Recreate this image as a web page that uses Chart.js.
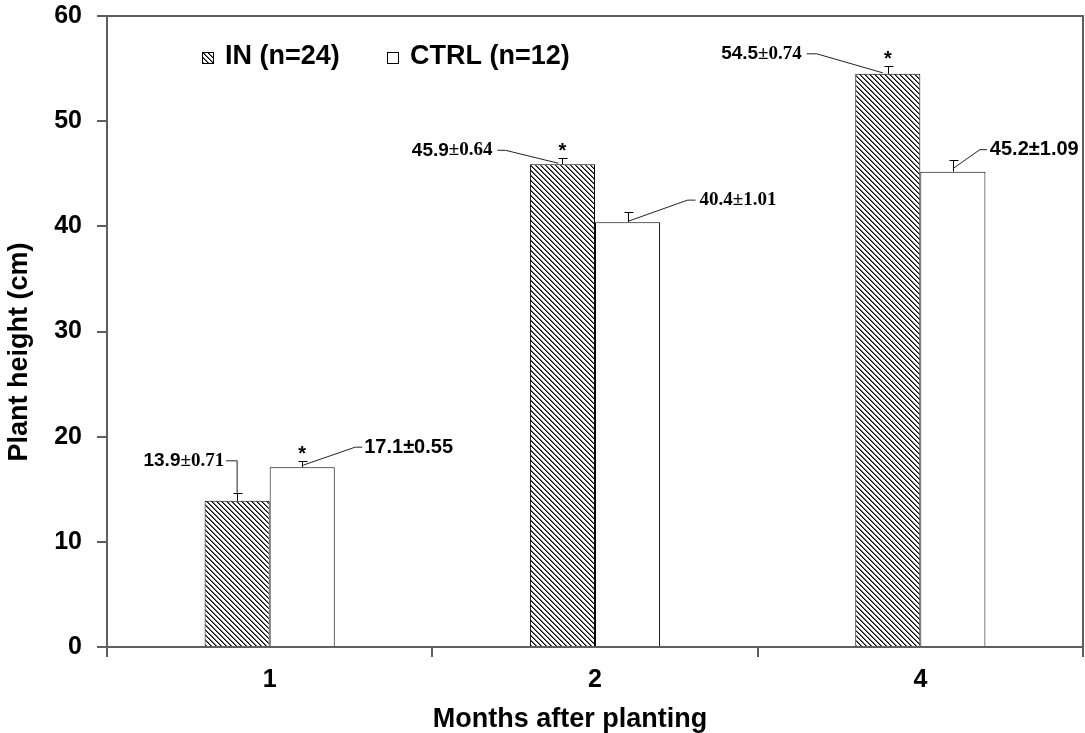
<!DOCTYPE html>
<html>
<head>
<meta charset="utf-8">
<script src="https://cdn.jsdelivr.net/npm/chart.js@4.4.1/dist/chart.umd.min.js"></script>
<style>
  html, body { margin: 0; padding: 0; background: #ffffff; }
  #wrap { width: 1085px; height: 733px; }
</style>
</head>
<body>
<div id="wrap"><canvas id="c" width="1085" height="733"></canvas></div>
<script>
// ---------------- DATA ----------------
const months = ['1', '2', '4'];
const seriesNames = ['IN (n=24)', 'CTRL (n=12)'];
const inValues = [13.9, 45.9, 54.5];
const inErrors = [0.71, 0.64, 0.74];
const ctrlValues = [17.1, 40.4, 45.2];
const ctrlErrors = [0.55, 1.01, 1.09];
const inSignificant = [false, true, true];
const ctrlSignificant = [true, false, false];
const yMin = 0, yMax = 60, yStep = 10;
const xTitle = 'Months after planting';
const yTitle = 'Plant height (cm)';

// ---------------- STYLE / LAYOUT ----------------
const SANS = '"Liberation Sans", Arial, sans-serif';
const SERIF = '"Liberation Serif", "Times New Roman", serif';
const AXIS_COLOR = '#5f5f5f';

// label placement, pixel offsets relative to (bar centre, bar top)
const labelLayout = [
  [ // IN
    { align: 'right', dx: -13, dy: -40, size: 19, fonts: [SANS, SERIF], leader: [[-11, -40], [0, -40], [0, -8]] },
    { align: 'right', dx: -70, dy: -14, size: 19, fonts: [SANS, SERIF], leader: [[-65, -14], [-57, -14], [-4, -1]] },
    { align: 'right', dx: -86, dy: -20, size: 19, fonts: [SANS, SERIF], leader: [[-81, -20], [-71, -20], [-5, -1]] }
  ],
  [ // CTRL
    { align: 'left', dx: 62, dy: -20, size: 20, fonts: [SANS, SANS], leader: [[60, -20], [53, -20], [1, -2]] },
    { align: 'left', dx: 72, dy: -22, size: 19, fonts: [SERIF, SERIF], leader: [[68, -22], [60, -22], [1, -1]] },
    { align: 'left', dx: 37, dy: -22, size: 20, fonts: [SANS, SANS], leader: [[34, -22], [27, -22], [0, -3]] }
  ]
];

function makeHatch() {
  const n = 5;
  const c = document.createElement('canvas');
  c.width = n; c.height = n;
  const g = c.getContext('2d');
  const img = g.createImageData(n, n);
  for (let py = 0; py < n; py++) {
    for (let px = 0; px < n; px++) {
      const d = ((px - py) % n + n) % n;
      const v = d === 0 ? 0 : (d === 1 ? 110 : 255);
      const i = (py * n + px) * 4;
      img.data[i] = v; img.data[i + 1] = v; img.data[i + 2] = v; img.data[i + 3] = 255;
    }
  }
  g.putImageData(img, 0, 0);
  return c;
}

const ctx = document.getElementById('c').getContext('2d');
const hatch = ctx.createPattern(makeHatch(), 'repeat');

const errorBarPlugin = {
  id: 'errorBars',
  afterDatasetsDraw(chart) {
    const g = chart.ctx;
    const ys = chart.scales.y;
    g.save();
    chart.data.datasets.forEach((ds, di) => {
      const meta = chart.getDatasetMeta(di);
      meta.data.forEach((el, i) => {
        const v = ds.data[i];
        const top = ys.getPixelForValue(v + ds.errors[i]);
        const x = Math.round(el.x) + 0.5;
        g.strokeStyle = '#000';
        g.lineWidth = 1;
        g.beginPath();
        g.moveTo(x, el.y);
        g.lineTo(x, Math.round(top) + 0.5);
        g.moveTo(x - 4, Math.round(top) + 0.5);
        g.lineTo(x + 5, Math.round(top) + 0.5);
        g.stroke();

        // significance asterisk
        if (ds.significant[i]) {
          g.fillStyle = '#000';
          g.font = 'bold 20px ' + SANS;
          g.textAlign = 'center';
          g.textBaseline = 'alphabetic';
          g.fillText('*', el.x, top - 1);
        }

        // value label with leader
        const L = labelLayout[di][i];
        const cx = el.x, by = el.y;
        g.strokeStyle = '#222';
        g.lineWidth = 1;
        g.beginPath();
        L.leader.forEach((p, k) => {
          const px = cx + p[0], py = by + p[1];
          if (k === 0) g.moveTo(px, py); else g.lineTo(px, py);
        });
        g.stroke();

        const parts = [v.toFixed(1), '\u00B1' + ds.errors[i].toFixed(2)];
        g.textBaseline = 'middle';
        g.textAlign = 'left';
        g.fillStyle = '#000';
        const widths = parts.map((t, k) => { g.font = 'bold ' + L.size + 'px ' + L.fonts[k]; return g.measureText(t).width; });
        const total = widths[0] + widths[1];
        let sx = L.align === 'right' ? cx + L.dx - total : cx + L.dx;
        const ty = by + L.dy;
        parts.forEach((t, k) => {
          g.font = 'bold ' + L.size + 'px ' + L.fonts[k];
          g.fillText(t, sx, ty);
          sx += widths[k];
        });
      });
    });
    g.restore();
  },
  afterDraw(chart) {
    const g = chart.ctx;
    const a = chart.chartArea;
    g.save();
    // frame top and right
    g.strokeStyle = AXIS_COLOR;
    g.lineWidth = 2;
    g.beginPath();
    g.moveTo(a.left, a.top);
    g.lineTo(a.right, a.top);
    g.lineTo(a.right, a.bottom);
    g.stroke();

    // legend
    const legendX = [202, 387];
    chart.data.datasets.forEach((ds, di) => {
      const bx = legendX[di], by = 52;
      g.fillStyle = ds.backgroundColor;
      g.fillRect(bx, by, 11, 11);
      g.strokeStyle = '#000';
      g.lineWidth = 1;
      g.strokeRect(bx + 0.5, by + 0.5, 11, 11);
      g.fillStyle = '#000';
      g.font = 'bold 27px ' + SANS;
      g.textAlign = 'left';
      g.textBaseline = 'middle';
      g.fillText(ds.label, bx + 23, 57);
    });

    // axis titles
    g.fillStyle = '#000';
    g.font = 'bold 27px ' + SANS;
    g.textAlign = 'center';
    g.textBaseline = 'alphabetic';
    g.fillText(xTitle, 570, 727);
    g.translate(27, 352);
    g.rotate(-Math.PI / 2);
    g.fillText(yTitle, 0, 0);
    g.restore();
  }
};

new Chart(ctx, {
  type: 'bar',
  data: {
    labels: months,
    datasets: [
      {
        label: seriesNames[0],
        data: inValues,
        errors: inErrors,
        significant: inSignificant,
        backgroundColor: hatch,
        borderColor: '#000',
        borderWidth: 1,
        categoryPercentage: 0.4,
        barPercentage: 1.0
      },
      {
        label: seriesNames[1],
        data: ctrlValues,
        errors: ctrlErrors,
        significant: ctrlSignificant,
        backgroundColor: '#ffffff',
        borderColor: '#000',
        borderWidth: 1,
        categoryPercentage: 0.4,
        barPercentage: 1.0
      }
    ]
  },
  options: {
    responsive: false,
    animation: false,
    layout: { padding: { top: 16, right: 2, left: 0, bottom: 0 } },
    plugins: {
      legend: { display: false },
      tooltip: { enabled: false },
      title: { display: false }
    },
    scales: {
      x: {
        offset: true,
        afterFit(s) { s.height = 86; s.paddingLeft = 0; s.paddingRight = 0; },
        grid: { offset: true, drawOnChartArea: false, drawTicks: true, tickLength: 10, color: AXIS_COLOR, lineWidth: 2 },
        border: { display: true, color: AXIS_COLOR, width: 2 },
        ticks: { color: '#000', font: { family: SANS, size: 25, weight: 'bold' }, padding: 8 }
      },
      y: {
        min: yMin,
        max: yMax,
        afterFit(s) { s.width = 107; s.paddingTop = 0; s.paddingBottom = 0; },
        grid: { drawOnChartArea: false, drawTicks: true, tickLength: 10, color: AXIS_COLOR, lineWidth: 2 },
        border: { display: true, color: AXIS_COLOR, width: 2 },
        ticks: { stepSize: yStep, color: '#000', font: { family: SANS, size: 25, weight: 'bold' }, padding: 15 }
      }
    }
  },
  plugins: [errorBarPlugin]
});
</script>
</body>
</html>
